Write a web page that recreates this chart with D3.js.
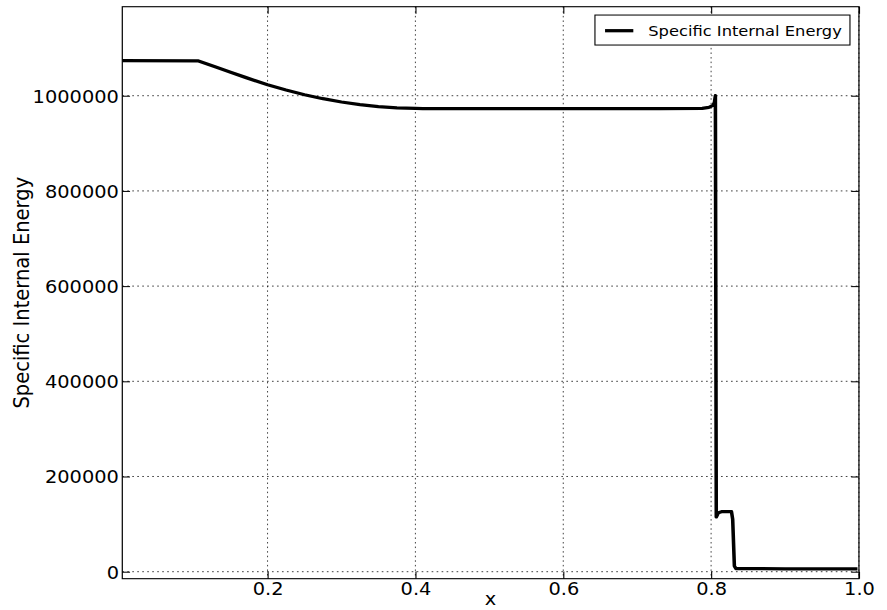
<!DOCTYPE html>
<html>
<head>
<meta charset="utf-8">
<script src="https://cdn.jsdelivr.net/npm/d3@7"></script>
<style>
  html, body { margin: 0; padding: 0; background: #fff; }
  svg { display: block; }
  text { font-family: "DejaVu Sans", sans-serif; fill: #000; }
</style>
</head>
<body>
<svg id="chart"></svg>
<script>
// Specific internal energy profile along x
const xValues = [0.0035, 0.1066, 0.1300, 0.1500, 0.1700, 0.2000, 0.2250, 0.2500, 0.2750, 0.3000, 0.3250, 0.3500, 0.3750, 0.4000, 0.4100, 0.5500, 0.6500, 0.7300, 0.7880, 0.7970, 0.8025, 0.8045, 0.8058, 0.8070, 0.8100, 0.8140, 0.8276, 0.8292, 0.8315, 0.8335, 0.9000, 0.9980];
const energyValues = [1073500, 1073000, 1060300, 1049400, 1038500, 1023100, 1011900, 1002100, 993700, 986800, 981300, 977100, 974400, 973200, 973000, 973000, 973000, 973000, 973400, 975600, 979800, 986000, 1000000, 115000, 124000, 126000, 126000, 110000, 12000, 6500, 6000, 6000];

const xTicks = [0.2, 0.4, 0.6, 0.8, 1.0];
const xTickLabels = ["0.2", "0.4", "0.6", "0.8", "1.0"];
const yTicks = [0, 200000, 400000, 600000, 800000, 1000000];
const yTickLabels = ["0", "200000", "400000", "600000", "800000", "1000000"];

const seriesName = "Specific Internal Energy";
const xTitle = "x";
const yTitle = "Specific Internal Energy";

// Drawing space of 800x600 units, shown in an 887x610 window
const W = 800, H = 600;
const svg = d3.select("#chart")
  .attr("width", 887).attr("height", 610)
  .attr("viewBox", `0 0 ${W} ${H}`)
  .attr("preserveAspectRatio", "none");

const plot = { left: 110.3, right: 774.7, top: 6.6, bottom: 569.2 };
const x = d3.scaleLinear().domain([0.0035, 1.0]).range([plot.left, plot.right]);
const y = d3.scaleLinear().domain([-14700, 1187000]).range([plot.bottom, plot.top]);

const fs = 17.5;
const tick = 7;

// dotted grid
const grid = svg.append("g").attr("stroke", "#000").attr("stroke-width", 0.7)
  .attr("stroke-dasharray", "1.5,3");
grid.selectAll("line.gx").data(xTicks).join("line")
  .attr("x1", d => x(d)).attr("x2", d => x(d))
  .attr("y1", plot.top).attr("y2", plot.bottom);
grid.selectAll("line.gy").data(yTicks).join("line")
  .attr("x1", plot.left).attr("x2", plot.right)
  .attr("y1", d => y(d)).attr("y2", d => y(d));

// axes with inward ticks on all four sides
const axB = svg.append("g").attr("transform", `translate(0,${plot.bottom})`)
  .call(d3.axisBottom(x).tickValues(xTicks).tickFormat((d, i) => xTickLabels[i])
    .tickSizeInner(-tick).tickSizeOuter(0));
const axT = svg.append("g").attr("transform", `translate(0,${plot.top})`)
  .call(d3.axisTop(x).tickValues(xTicks).tickFormat("").tickSizeInner(-tick).tickSizeOuter(0));
const axL = svg.append("g").attr("transform", `translate(${plot.left},0)`)
  .call(d3.axisLeft(y).tickValues(yTicks).tickFormat((d, i) => yTickLabels[i])
    .tickSizeInner(-tick).tickSizeOuter(0));
const axR = svg.append("g").attr("transform", `translate(${plot.right},0)`)
  .call(d3.axisRight(y).tickValues(yTicks).tickFormat("").tickSizeInner(-tick).tickSizeOuter(0));

[axB, axT, axL, axR].forEach(g => {
  g.select(".domain").remove();
  g.selectAll(".tick line").attr("stroke", "#000").attr("stroke-width", 1);
  g.selectAll("text").attr("font-family", "DejaVu Sans").attr("font-size", fs).attr("fill", "#000");
});
axB.selectAll(".tick text").attr("y", 16).attr("dy", null);
axL.selectAll(".tick text").attr("x", -3).attr("dy", "0.36em");

// data line
const line = d3.line().x((d, i) => x(xValues[i])).y(d => y(d));
svg.append("path").datum(energyValues)
  .attr("d", line)
  .attr("fill", "none").attr("stroke", "#000").attr("stroke-width", 3.2)
  .attr("stroke-linejoin", "round");

// frame
svg.append("rect")
  .attr("x", plot.left).attr("y", plot.top)
  .attr("width", plot.right - plot.left).attr("height", plot.bottom - plot.top)
  .attr("fill", "none").attr("stroke", "#000").attr("stroke-width", 1.1);

// axis titles
svg.append("text").attr("x", (plot.left + plot.right) / 2).attr("y", 595)
  .attr("text-anchor", "middle").attr("font-size", fs).text(xTitle);
svg.append("text")
  .attr("transform", `translate(26.5,${(plot.top + plot.bottom) / 2}) rotate(-90)`)
  .attr("text-anchor", "middle").attr("font-size", 19.2).text(yTitle);

// legend
const lg = svg.append("g");
lg.append("rect").attr("x", 536.6).attr("y", 14.8).attr("width", 230).attr("height", 29.5)
  .attr("fill", "#fff").attr("stroke", "#000").attr("stroke-width", 1);
lg.append("line").attr("x1", 545.7).attr("x2", 571.2).attr("y1", 30.2).attr("y2", 30.2)
  .attr("stroke", "#000").attr("stroke-width", 3.2);
lg.append("text").attr("x", 584.7).attr("y", 35.4).attr("font-size", 14.7).text(seriesName);
</script>
</body>
</html>
